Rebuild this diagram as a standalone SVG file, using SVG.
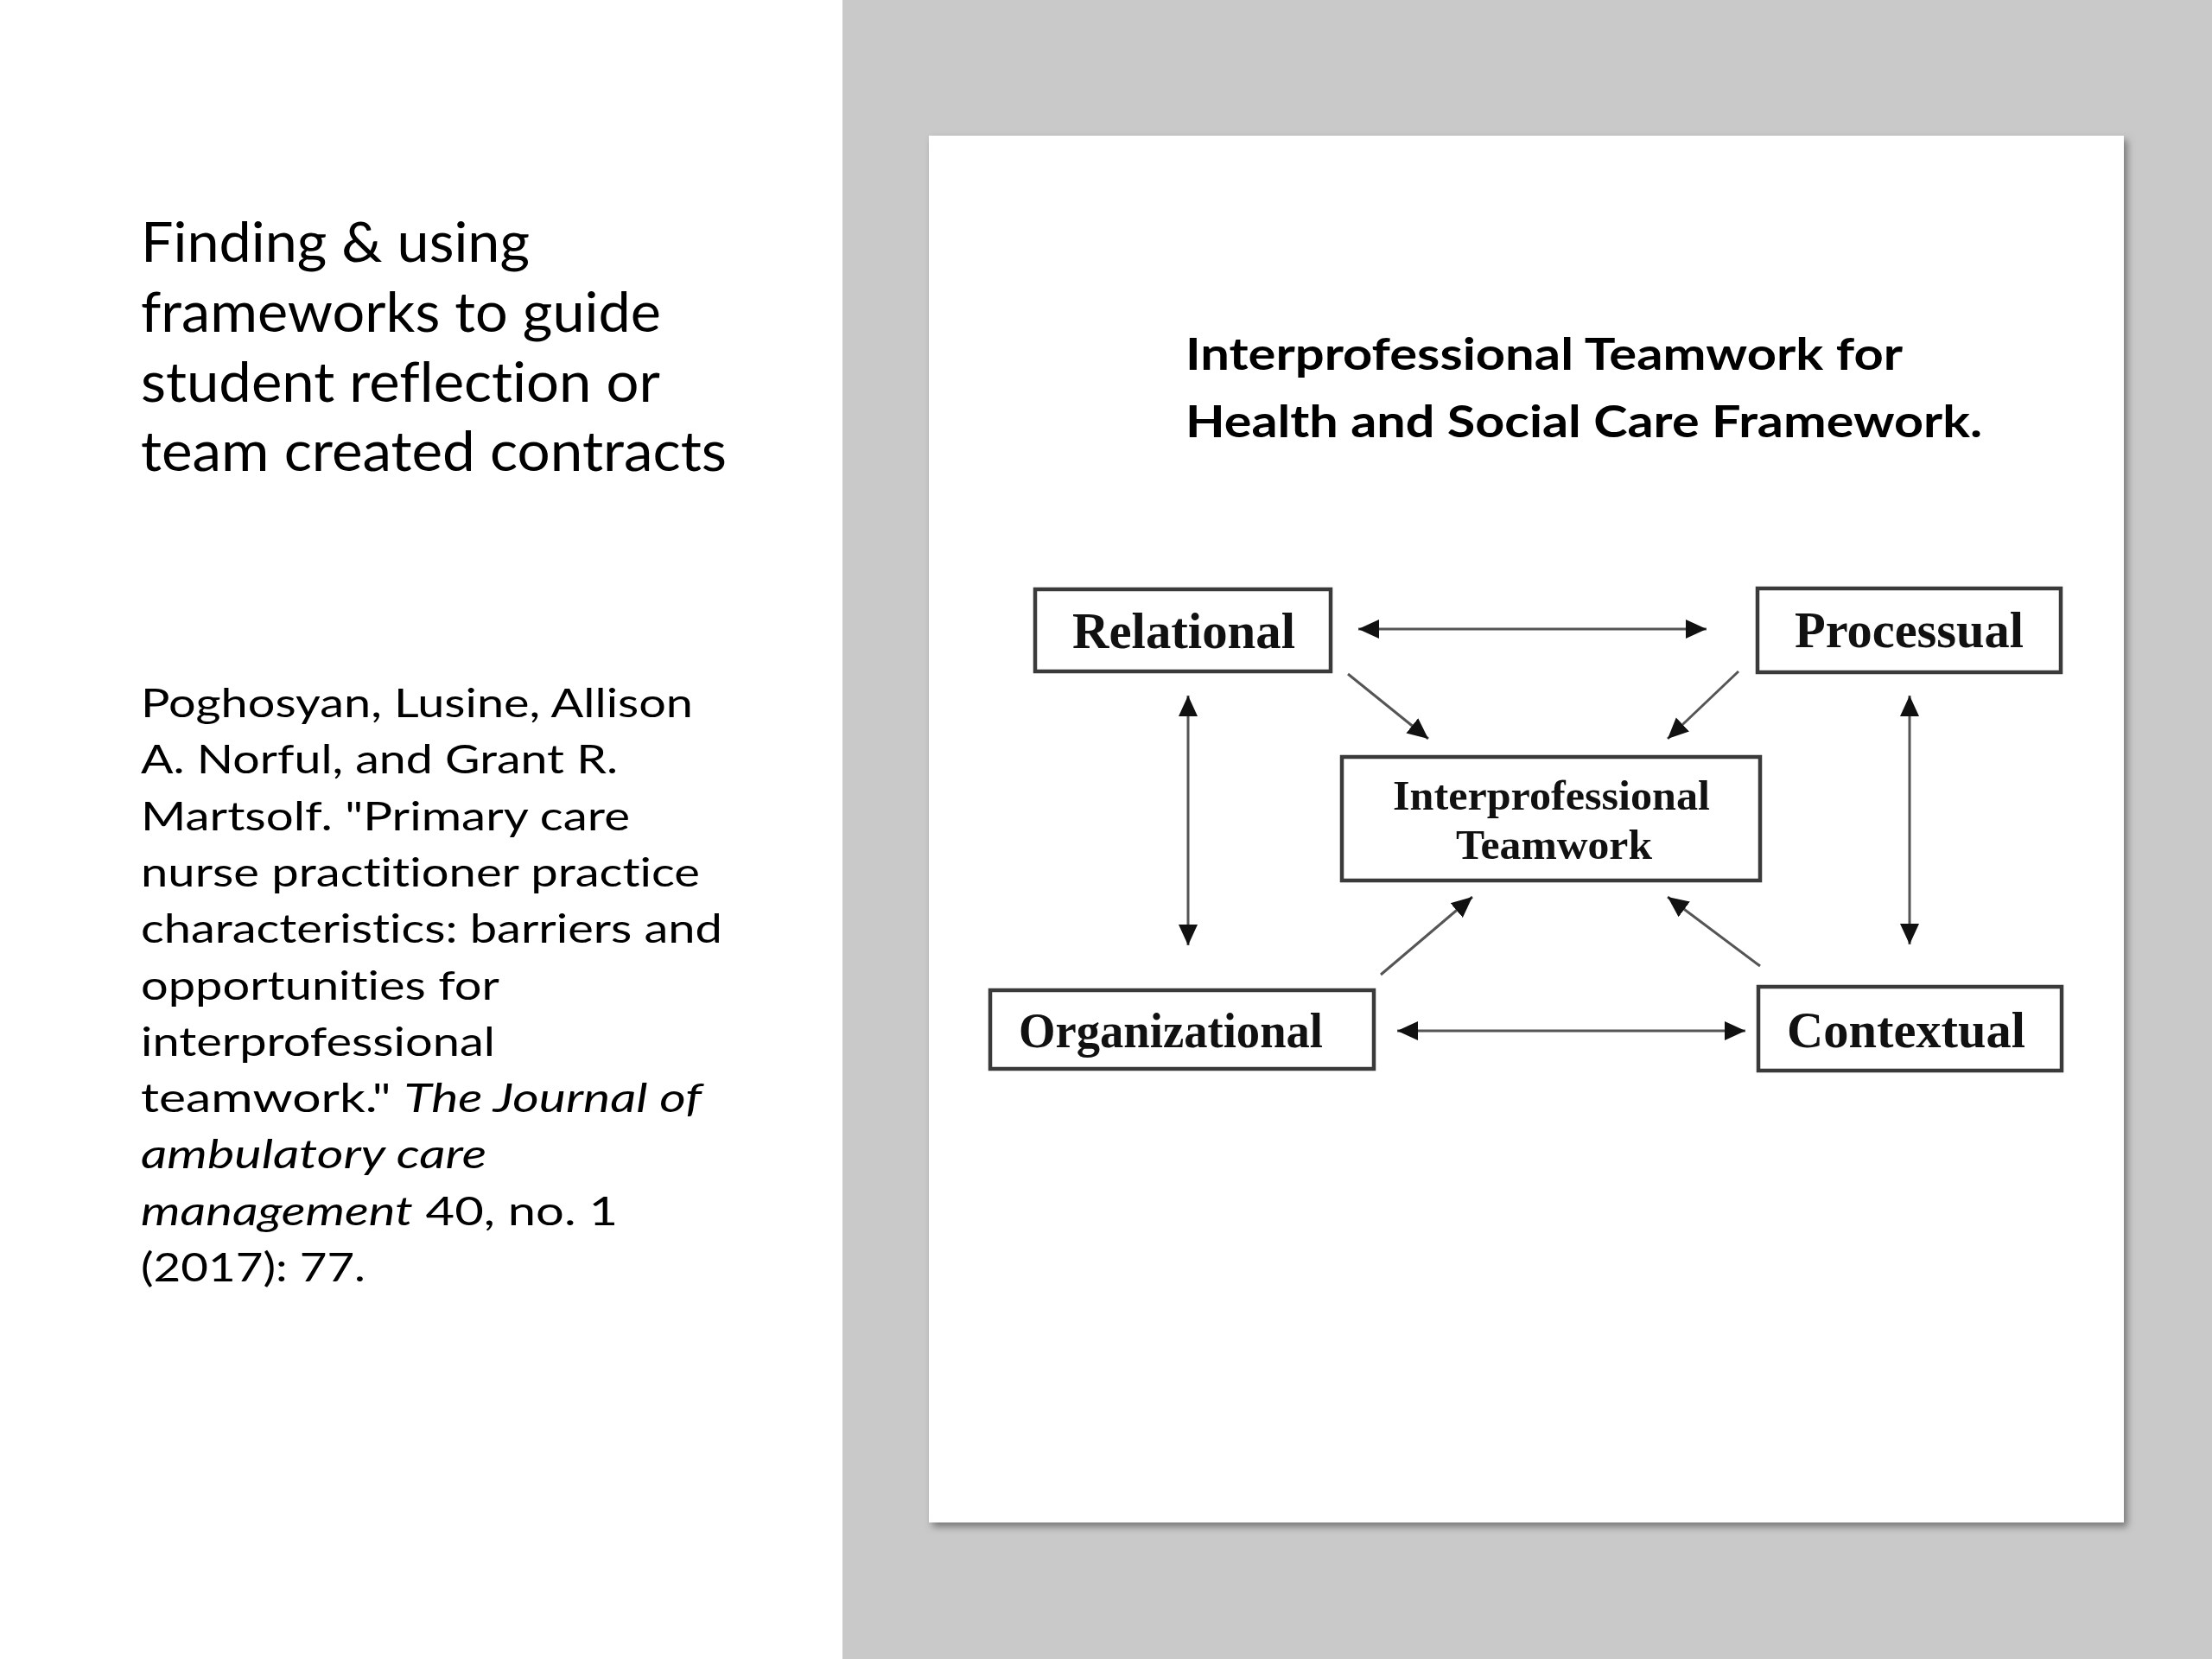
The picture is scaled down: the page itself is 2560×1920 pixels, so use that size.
<svg xmlns="http://www.w3.org/2000/svg" width="2560" height="1920" viewBox="0 0 2560 1920">
<defs>
<style>
text{font-variant-ligatures:none}
.slide-title{font-family:Lato,"Open Sans","Liberation Sans",sans-serif;font-size:64px;fill:#000}
.cite{font-family:Lato,"Open Sans","Liberation Sans",sans-serif;font-size:46px;fill:#000}
.it{font-style:italic}
.card-title{font-family:Lato,"Open Sans","Liberation Sans",sans-serif;font-size:52px;font-weight:bold;fill:#000}
.box{fill:#fff;stroke:#3a3a3a;stroke-width:4.5}
.lbl{font-family:"Liberation Serif","Times New Roman",serif;font-weight:bold;fill:#111}
.conn{stroke:#555;stroke-width:3;fill:none}
</style>
<marker id="ah" viewBox="0 0 24 24" refX="24" refY="12" markerWidth="24" markerHeight="24" markerUnits="userSpaceOnUse" orient="auto-start-reverse">
<path d="M0,1 L24,12 L0,23 Z" fill="#111"/>
</marker>
<filter id="shadow" x="-5%" y="-5%" width="110%" height="110%">
<feDropShadow dx="4" dy="5" stdDeviation="4" flood-color="#555" flood-opacity="0.7"/>
</filter>
</defs>
<rect x="0" y="0" width="2560" height="1920" fill="#fff"/>
<rect x="975" y="0" width="1585" height="1920" fill="#c8c9c8"/>

<g id="slide-title">
<text class="slide-title" x="163" y="303" textLength="450" lengthAdjust="spacingAndGlyphs">Finding &amp; using</text>
<text class="slide-title" x="163" y="384" textLength="602" lengthAdjust="spacingAndGlyphs">frameworks to guide</text>
<text class="slide-title" x="163" y="465" textLength="601" lengthAdjust="spacingAndGlyphs">student reflection or</text>
<text class="slide-title" x="163" y="545" textLength="678" lengthAdjust="spacingAndGlyphs">team created contracts</text>
</g>

<g id="citation">
<text class="cite" x="163" y="830" textLength="639" lengthAdjust="spacingAndGlyphs">Poghosyan, Lusine, Allison</text>
<text class="cite" x="163" y="895" textLength="552" lengthAdjust="spacingAndGlyphs">A. Norful, and Grant R.</text>
<text class="cite" x="163" y="961" textLength="566" lengthAdjust="spacingAndGlyphs">Martsolf. "Primary care</text>
<text class="cite" x="163" y="1026" textLength="647" lengthAdjust="spacingAndGlyphs">nurse practitioner practice</text>
<text class="cite" x="163" y="1091" textLength="673" lengthAdjust="spacingAndGlyphs">characteristics: barriers and</text>
<text class="cite" x="163" y="1157" textLength="415" lengthAdjust="spacingAndGlyphs">opportunities for</text>
<text class="cite" x="163" y="1222" textLength="410" lengthAdjust="spacingAndGlyphs">interprofessional</text>
<text class="cite" x="163" y="1287" textLength="649" lengthAdjust="spacingAndGlyphs">teamwork." <tspan class="it">The Journal of</tspan></text>
<text class="cite it" x="163" y="1352" textLength="400" lengthAdjust="spacingAndGlyphs">ambulatory care</text>
<text class="cite" x="163" y="1418" textLength="552" lengthAdjust="spacingAndGlyphs"><tspan class="it">management</tspan> 40, no. 1</text>
<text class="cite" x="163" y="1483" textLength="260" lengthAdjust="spacingAndGlyphs">(2017): 77.</text>
</g>

<g id="card">
<rect x="1075" y="157" width="1383" height="1605" fill="#fff" filter="url(#shadow)"/>
<text class="card-title" x="1372" y="428" textLength="830" lengthAdjust="spacingAndGlyphs">Interprofessional Teamwork for</text>
<text class="card-title" x="1372" y="506" textLength="922" lengthAdjust="spacingAndGlyphs">Health and Social Care Framework.</text>
</g>

<g id="connectors">
<line class="conn" x1="1572" y1="728" x2="1975" y2="728" marker-start="url(#ah)" marker-end="url(#ah)"/>
<line class="conn" x1="1617" y1="1193" x2="2020" y2="1193" marker-start="url(#ah)" marker-end="url(#ah)"/>
<line class="conn" x1="1375" y1="805" x2="1375" y2="1094" marker-start="url(#ah)" marker-end="url(#ah)"/>
<line class="conn" x1="2210" y1="805" x2="2210" y2="1093" marker-start="url(#ah)" marker-end="url(#ah)"/>
<line class="conn" x1="1560" y1="780" x2="1653" y2="855" marker-end="url(#ah)"/>
<line class="conn" x1="2012" y1="777" x2="1930" y2="855" marker-end="url(#ah)"/>
<line class="conn" x1="1598" y1="1128" x2="1704" y2="1038" marker-end="url(#ah)"/>
<line class="conn" x1="2037" y1="1118" x2="1930" y2="1038" marker-end="url(#ah)"/>
</g>

<g id="node-relational">
<rect class="box" x="1198" y="682" width="342" height="95"/>
<text class="lbl" x="1241" y="750" font-size="59" textLength="258" lengthAdjust="spacingAndGlyphs">Relational</text>
</g>
<g id="node-processual">
<rect class="box" x="2034" y="681" width="351" height="97"/>
<text class="lbl" x="2077" y="749" font-size="59" textLength="265" lengthAdjust="spacingAndGlyphs">Processual</text>
</g>
<g id="node-interprofessional">
<rect class="box" x="1553" y="876" width="484" height="143"/>
<text class="lbl" x="1612" y="937" font-size="48" textLength="367" lengthAdjust="spacingAndGlyphs">Interprofessional</text>
<text class="lbl" x="1685" y="994" font-size="48" textLength="227" lengthAdjust="spacingAndGlyphs">Teamwork</text>
</g>
<g id="node-organizational">
<rect class="box" x="1146" y="1146" width="444" height="91"/>
<text class="lbl" x="1179" y="1212" font-size="57" textLength="352" lengthAdjust="spacingAndGlyphs">Organizational</text>
</g>
<g id="node-contextual">
<rect class="box" x="2035" y="1142" width="351" height="97"/>
<text class="lbl" x="2068" y="1212" font-size="59" textLength="276" lengthAdjust="spacingAndGlyphs">Contextual</text>
</g>
</svg>
